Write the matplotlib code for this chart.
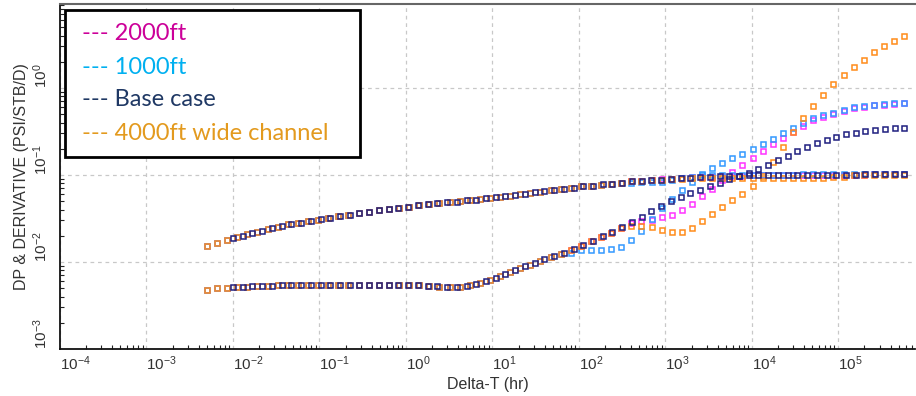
import matplotlib
matplotlib.use("Agg")
import matplotlib.pyplot as plt
from matplotlib.patches import Rectangle
from matplotlib.ticker import LogLocator, NullFormatter, LogFormatterSciNotation

plt.rcParams["font.family"] = ["Liberation Sans", "DejaVu Sans"]
plt.rcParams["mathtext.fontset"] = "custom"
plt.rcParams["mathtext.rm"] = "Liberation Sans"
plt.rcParams["mathtext.it"] = "Liberation Sans:italic"
plt.rcParams["mathtext.bf"] = "Liberation Sans:bold"
plt.rcParams["mathtext.default"] = "rm"

# ── data ─────────────────────────────────────────────────
# base case time steps (hr)
t_base = [0.0100, 0.0130, 0.0168, 0.0218, 0.0282, 0.0365, 0.0473, 0.0613, 0.0794, 0.103,
          0.133, 0.173, 0.224, 0.290, 0.376, 0.487, 0.631, 0.818, 1.06, 1.37,
          1.78, 2.30, 2.99, 3.87, 5.01, 6.49, 8.41, 10.9, 14.1, 18.3,
          23.7, 30.7, 39.8, 51.6, 66.8, 86.6, 112, 145, 188, 244,
          316, 410, 531, 688, 891, 1155, 1496, 1939, 2512, 3255,
          4217, 5464, 7079, 9173, 11885, 15400, 19950, 25850, 33500, 43400,
          56230, 72860, 94410, 122300, 158500, 205400, 266100, 344700, 446700, 578800]

dp_base = [0.0187, 0.0199, 0.0215, 0.0229, 0.0245, 0.0259, 0.0275, 0.0284, 0.0296, 0.0310,
           0.0322, 0.0338, 0.0350, 0.0362, 0.0380, 0.0396, 0.0402, 0.0418, 0.0432, 0.0450,
           0.0466, 0.0478, 0.0490, 0.0495, 0.0510, 0.0522, 0.0538, 0.0553, 0.0569, 0.0592,
           0.0610, 0.0630, 0.0650, 0.0672, 0.0697, 0.0714, 0.0748, 0.0752, 0.0780, 0.0790,
           0.0818, 0.0845, 0.0860, 0.0865, 0.0880, 0.0905, 0.0916, 0.0930, 0.0945, 0.0960,
           0.0975, 0.0980, 0.0985, 0.0990, 0.0995, 0.1000, 0.1000, 0.1000, 0.1005, 0.1005,
           0.1005, 0.1010, 0.1010, 0.1010, 0.1010, 0.1015, 0.1015, 0.1015, 0.1015, 0.1020]

der_base = [0.0052, 0.0052, 0.0053, 0.0053, 0.0053, 0.0054, 0.0054, 0.0054, 0.0054, 0.0054,
            0.0054, 0.0055, 0.0054, 0.0055, 0.0054, 0.0055, 0.0054, 0.0054, 0.0054, 0.0054,
            0.0053, 0.00525, 0.0052, 0.0052, 0.0053, 0.0056, 0.0060, 0.0066, 0.0073, 0.0080,
            0.0089, 0.0097, 0.0108, 0.0118, 0.0128, 0.0142, 0.0157, 0.0176, 0.0197, 0.0223,
            0.0253, 0.0286, 0.0329, 0.0390, 0.0436, 0.0500, 0.0554, 0.0620, 0.0678, 0.0741,
            0.0810, 0.0890, 0.0970, 0.1050, 0.1170, 0.1290, 0.1470, 0.1650, 0.1870, 0.2100,
            0.2350, 0.2550, 0.2700, 0.2980, 0.3040, 0.3200, 0.3290, 0.3380, 0.3430, 0.3500]

# time steps shared by the three sensitivity runs (hr)
t_sens = [0.00501, 0.00656, 0.00858, 0.0112, 0.0147, 0.0192, 0.0252, 0.0329, 0.0431, 0.0564,
          0.0738, 0.0966, 0.126, 0.165, 0.216, 0.283, 0.371, 0.485, 0.634, 0.830,
          1.09, 1.42, 1.86, 2.43, 3.19, 4.17, 5.46, 7.14, 9.34, 12.2,
          16.0, 20.9, 27.4, 35.8, 46.9, 61.4, 80.3, 105, 138, 180,
          236, 308, 403, 528, 691, 904, 1183, 1548, 2025, 2650,
          3467, 4538, 5938, 7770, 10170, 13300, 17410, 22790, 29810, 39010,
          51050, 66800, 87410, 114400, 149700, 195900, 256300, 335400, 438900, 574300]

# early-time part identical for all three runs
dp_early = [0.0152, 0.0167, 0.0178, 0.0193, 0.0207, 0.0222, 0.0238, 0.0253, 0.0270, 0.0282,
            0.0293, 0.0306, 0.0320, 0.0335, 0.0349, 0.0361, 0.0378, 0.0396, 0.0402, 0.0418,
            0.0434, 0.0452, 0.0467, 0.0480, 0.0491, 0.0498, 0.0512, 0.0526, 0.0543, 0.0560,
            0.0577, 0.0600, 0.0620, 0.0643, 0.0665, 0.0690, 0.0710, 0.0740, 0.0752, 0.0775]
der_early = [0.0048, 0.0050, 0.0050, 0.0052, 0.0052, 0.0053, 0.0053, 0.0054, 0.0054, 0.0054,
             0.0055, 0.0054, 0.0055, 0.0054, 0.0055, 0.0054, 0.0054, 0.0054, 0.0054, 0.0054,
             0.0054, 0.0054, 0.0053, 0.0052, 0.0052, 0.0052, 0.0054, 0.0057, 0.0062, 0.0069,
             0.0076, 0.0085, 0.0093, 0.0103, 0.0113, 0.0123]

dp_4000 = dp_early + [0.0790, 0.0815, 0.0845, 0.0860, 0.0865, 0.0880, 0.0905, 0.0910, 0.0920, 0.0925,
                      0.0930, 0.0930, 0.0930, 0.0930, 0.0930, 0.0930, 0.0930, 0.0930, 0.0930, 0.0930,
                      0.0930, 0.0935, 0.0940, 0.0950, 0.0990, 0.1000, 0.1000, 0.1005, 0.1005, 0.1010]
dp_1000 = dp_early + [0.0780, 0.0800, 0.0810, 0.0820, 0.0820, 0.0830, 0.0870, 0.0920, 0.0960, 0.0990,
                      0.1000, 0.1000, 0.1005, 0.1005, 0.1005, 0.1010, 0.1010, 0.1010, 0.1010, 0.1015,
                      0.1015, 0.1015, 0.1015, 0.1020, 0.1020, 0.1020, 0.1020, 0.1020, 0.1025, 0.1025]
dp_2000 = dp_early + [0.0790, 0.0815, 0.0845, 0.0860, 0.0870, 0.0890, 0.0910, 0.0920, 0.0940, 0.0950,
                      0.0960, 0.0970, 0.0980, 0.0985, 0.0990, 0.0995, 0.1000, 0.1000, 0.1000, 0.1005,
                      0.1005, 0.1005, 0.1010, 0.1010, 0.1010, 0.1010, 0.1015, 0.1015, 0.1015, 0.1015]

der_4000 = der_early + [0.0138, 0.0153, 0.0172, 0.0193, 0.0218, 0.0248, 0.0262, 0.0257, 0.0255, 0.0235,
                        0.0219, 0.0219, 0.0248, 0.0299, 0.0356, 0.0425, 0.0510, 0.0605, 0.0738, 0.0980,
                        0.142, 0.208, 0.309, 0.448, 0.626, 0.838, 1.10, 1.41, 1.76, 2.11,
                        2.57, 3.06, 3.50, 3.96]
der_1000 = der_early + [0.0128, 0.0137, 0.0137, 0.0137, 0.0140, 0.0149, 0.0178, 0.0229, 0.0310, 0.0414,
                        0.053, 0.068, 0.084, 0.102, 0.119, 0.139, 0.156, 0.176, 0.200, 0.229,
                        0.260, 0.300, 0.350, 0.400, 0.450, 0.490, 0.520, 0.560, 0.600, 0.626,
                        0.643, 0.660, 0.678, 0.678]
der_2000 = der_early + [0.0138, 0.0153, 0.0172, 0.0193, 0.0218, 0.0248, 0.0280, 0.0299, 0.0306, 0.0330,
                        0.0350, 0.0400, 0.0460, 0.0570, 0.0690, 0.0870, 0.1070, 0.1300, 0.1560, 0.1910,
                        0.2270, 0.2680, 0.3100, 0.3650, 0.4300, 0.4580, 0.5000, 0.5480, 0.5840, 0.6100,
                        0.6300, 0.6450, 0.6600, 0.6700]

legend_labels = ["--- 2000ft", "--- 1000ft", "--- Base case", "--- 4000ft wide channel"]
legend_colors = ["#cc0099", "#00b0f0", "#1f3864", "#e39a1e"]

C_MAG, C_BLUE, C_NAVY, C_ORANGE = "#ff33ff", "#3399ff", "#1f1f80", "#ff8c1a"

# ── figure ───────────────────────────────────────────────
W, H = 916, 396
fig = plt.figure(figsize=(W / 100, H / 100), dpi=100)
ax = fig.add_axes([60 / W, 1 - 349 / H, (915 - 60) / W, (349 - 4) / H])

runs = [
    (t_sens, dp_2000, der_2000, C_MAG),
    (t_sens, dp_1000, der_1000, C_BLUE),
    (t_sens, dp_4000, der_4000, C_ORANGE),
    (t_base, dp_base, der_base, C_NAVY),
]
for t, dp, der, col in runs:
    for y in (dp, der):
        ax.plot(t, y, ls="none", marker="s", ms=3.6, mfc="none", mec=col, mew=1.1)

ax.set_xscale("log")
ax.set_yscale("log")
ax.set_xlim(1e-4, 10 ** 5.885)
ax.set_ylim(1e-3, 10 ** 0.965)

ax.xaxis.set_major_locator(LogLocator(base=10, numticks=20))
ax.xaxis.set_minor_locator(LogLocator(base=10, subs=range(2, 10), numticks=20))
ax.yaxis.set_major_locator(LogLocator(base=10, numticks=20))
ax.yaxis.set_minor_locator(LogLocator(base=10, subs=range(2, 10), numticks=20))
ax.xaxis.set_minor_formatter(NullFormatter())
ax.yaxis.set_minor_formatter(NullFormatter())
ax.xaxis.set_major_formatter(LogFormatterSciNotation())
ax.yaxis.set_major_formatter(LogFormatterSciNotation())

ax.grid(True, which="major", color="#c8c8c8", ls=(0, (3, 3)), lw=0.9)
ax.tick_params(which="both", direction="in", colors="#222222", labelcolor="#333333", labelsize=11)
ax.tick_params(which="major", length=0)
ax.tick_params(which="minor", length=3, width=0.8)
ax.tick_params(axis="x", pad=4)
ax.tick_params(axis="y", labelrotation=90, pad=7)
for lbl in ax.get_xticklabels():
    lbl.set_ha("left")
for lbl in ax.get_yticklabels():
    lbl.set_va("bottom")

for side in ("left", "bottom"):
    ax.spines[side].set_color("#111111")
    ax.spines[side].set_linewidth(1.3)
ax.spines["top"].set_color("#666666")
ax.spines["top"].set_linewidth(1.5)
ax.spines["right"].set_visible(False)

ax.set_xlabel("Delta-T (hr)", fontsize=11.5, color="#333333", labelpad=3)
ax.set_ylabel("DP & DERIVATIVE (PSI/STB/D)", fontsize=11.5, color="#333333", labelpad=2)

# legend box drawn as a framed text block
fig.patches.append(Rectangle((65 / W, 1 - 157 / H), (360 - 65) / W, (157 - 10) / H,
                             transform=fig.transFigure, fill=True, facecolor="white",
                             edgecolor="black", lw=2, zorder=5))
for k, (txt, col) in enumerate(zip(legend_labels, legend_colors)):
    fig.text(82 / W, 1 - (34 + 33 * k) / H, txt, color=col, fontsize=17,
             family=["Lato", "DejaVu Sans"], va="center", ha="left", zorder=6)

fig.savefig("out.png", dpi=100)
